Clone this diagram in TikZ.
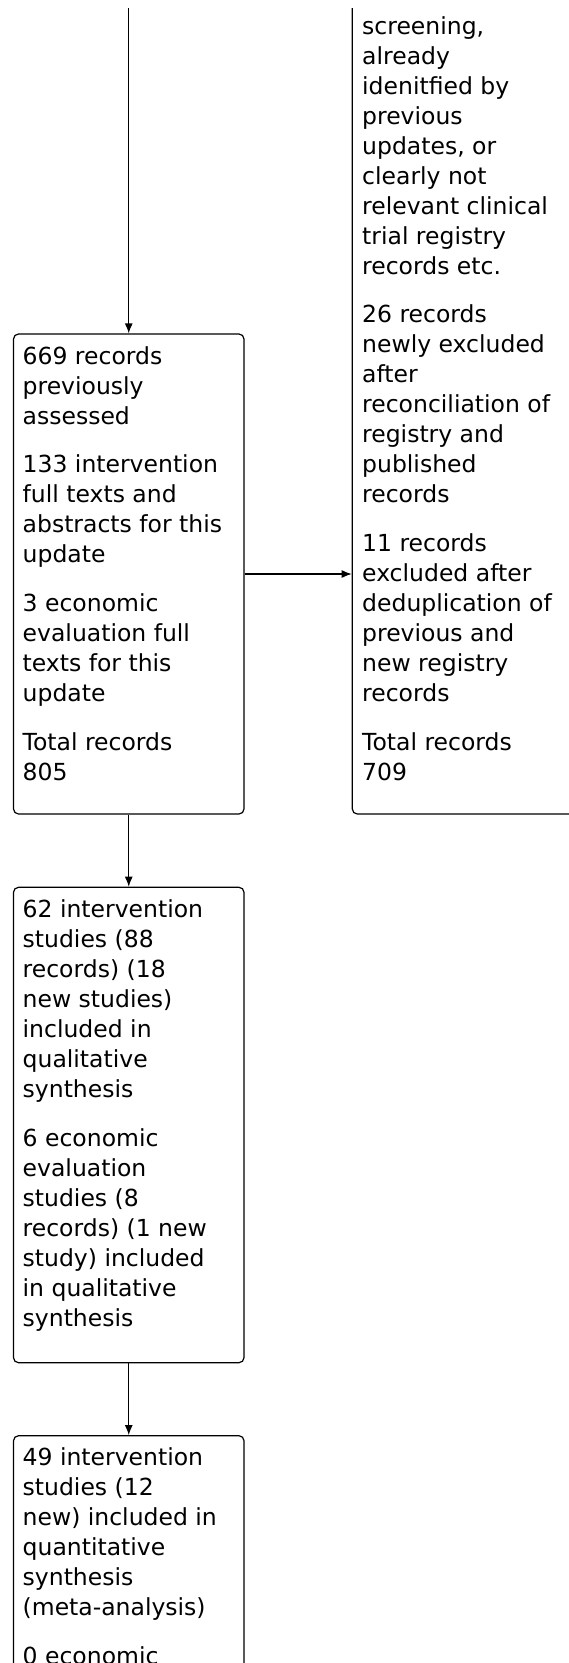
\documentclass[tikz,border=0pt]{standalone}
\usepackage{fontspec}
\setmainfont{DejaVu Sans}
\usetikzlibrary{arrows.meta}

\tikzset{
	box/.style={draw, rounded corners=5pt, line width=1.2pt, minimum width=230.5pt, inner sep=0pt},
	boxtext/.style={anchor=north west, align=left, inner sep=0pt, font=\fontsize{23.5}{30}\selectfont},
}

\begin{document}
\begin{tikzpicture}[x=1pt, y=-1pt, >={Latex[length=10pt,width=8pt]}]
		\useasboundingbox (0,0) rectangle (569,1663); % Fix the page size
		\begin{scope}
		\clip (0,8) rectangle (569,1663); % Cut everything outside the visible part

		\node[box, minimum height=480pt] (prev) at (128.75,574) {}; % Records assessed
		\node[box, minimum height=1064pt] (excl) at (467.55,282) {}; % Records excluded
		\node[box, minimum height=475.4pt] (incl) at (128.75,1125) {}; % Qualitative synthesis
		\node[box, minimum height=480pt] (meta) at (128.75,1675.7) {}; % Quantitative synthesis
		\coordinate (src) at (128.75,0); % Arrow coming from above

		\node[boxtext] (prevtext) at (22.5,346.1) {669 records\\previously\\assessed\\[18.7pt]133 intervention\\full texts and\\abstracts for this\\update\\[18.7pt]3 economic\\evaluation full\\texts for this\\update\\[18.7pt]Total records\\805};
		\node[boxtext] (excltext) at (362,16) {screening,\\already\\idenitfied by\\previous\\updates, or\\clearly not\\relevant clinical\\trial registry\\records etc.\\[18.7pt]26 records\\newly excluded\\after\\reconciliation of\\registry and\\published\\records\\[18.7pt]11 records\\excluded after\\deduplication of\\previous and\\new registry\\records\\[18.7pt]Total records\\709};
		\node[boxtext] (incltext) at (22.5,899.4) {62 intervention\\studies (88\\records) (18\\new studies)\\included in\\qualitative\\synthesis\\[18.7pt]6 economic\\evaluation\\studies (8\\records) (1 new\\study) included\\in qualitative\\synthesis};
		\node[boxtext] (metatext) at (22.5,1447.8) {49 intervention\\studies (12\\new) included in\\quantitative\\synthesis\\(meta-analysis)\\[18.7pt]0 economic};

		\draw[->, line width=1.2pt] (src) -- (prev); % Into the assessed box
		\draw[->, line width=1.2pt] (prev.east) -- (prev.east -| excl.west); % To the excluded box
		\draw[->, line width=1.2pt] (prev) -- (incl); % Down to qualitative
		\draw[->, line width=1.2pt] (incl) -- (meta); % Down to quantitative
		\end{scope}
	\end{tikzpicture}
\end{document}
